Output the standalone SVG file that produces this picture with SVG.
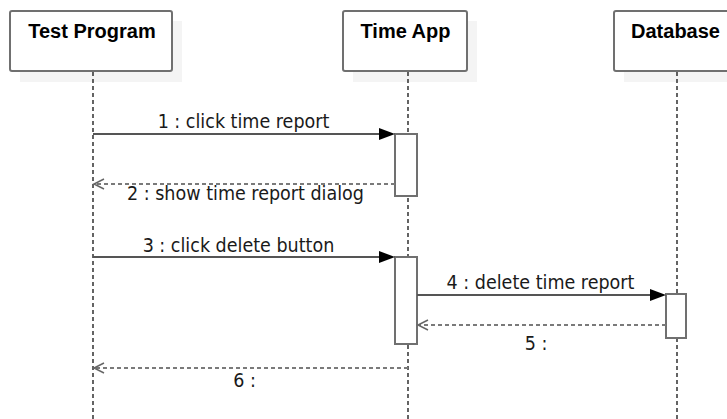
<svg xmlns="http://www.w3.org/2000/svg" width="727" height="419" viewBox="0 0 727 419">
  <style>
    .shadow { fill: #f4f4f4; stroke: none; }
    .head { fill: #ffffff; stroke: #707070; stroke-width: 2; }
    .title { font-family: "Liberation Sans", Arial, sans-serif; font-weight: bold; font-size: 20px; fill: #000; text-anchor: middle; }
    .life { stroke: #111; stroke-width: 1.3; stroke-dasharray: 4 3; fill: none; }
    .act { fill: #ffffff; stroke: #707070; stroke-width: 2; }
    .call { stroke: #555; stroke-width: 2; fill: none; }
    .ret { stroke: #7a7a7a; stroke-width: 2; stroke-dasharray: 4 3; fill: none; }
    .open { stroke: #666; stroke-width: 1.5; fill: none; }
    .label { font-family: "DejaVu Sans Condensed", "DejaVu Sans", sans-serif; font-stretch: condensed; font-size: 19.5px; fill: #1a1a1a; text-anchor: middle; }
  </style>

  <!-- lifeline heads -->
  <g id="test-program">
    <rect class="shadow" x="20" y="21" width="162" height="61"/>
    <rect class="head" x="10" y="11" width="162" height="60" rx="2"/>
    <text class="title" x="92" y="38">Test Program</text>
    <line class="life" x1="93" y1="72" x2="93" y2="419"/>
  </g>

  <g id="time-app">
    <rect class="shadow" x="353" y="21" width="124" height="61"/>
    <rect class="head" x="343" y="11" width="124" height="60" rx="2"/>
    <text class="title" x="405.5" y="38">Time App</text>
    <line class="life" x1="408" y1="72" x2="408" y2="419"/>
    <rect class="act" x="395" y="134" width="22" height="62"/>
    <rect class="act" x="395" y="257" width="22" height="87"/>
  </g>

  <g id="database">
    <rect class="shadow" x="624" y="21" width="124" height="61"/>
    <rect class="head" x="614" y="11" width="124" height="60" rx="2"/>
    <text class="title" x="675.5" y="38">Database</text>
    <line class="life" x1="677" y1="72" x2="677" y2="419"/>
    <rect class="act" x="666" y="294" width="20" height="44"/>
  </g>

  <!-- messages -->
  <g id="connectors">
    <!-- 1 -->
    <line class="call" x1="93" y1="134" x2="381" y2="134"/>
    <polygon points="379,128 395,134 379,140" fill="#000"/>
    <text class="label" x="243.5" y="128">1 : click time report</text>

    <!-- 2 -->
    <line class="ret" x1="395" y1="184" x2="95" y2="184"/>
    <polyline class="open" points="104,179 94,184 104,189"/>
    <text class="label" x="245.5" y="199.5">2 : show time report dialog</text>

    <!-- 3 -->
    <line class="call" x1="93" y1="257" x2="381" y2="257"/>
    <polygon points="379,251 395,257 379,263" fill="#000"/>
    <text class="label" x="238.5" y="251.5">3 : click delete button</text>

    <!-- 4 -->
    <line class="call" x1="417" y1="295" x2="652" y2="295"/>
    <polygon points="650,289 666,295 650,301" fill="#000"/>
    <text class="label" x="540.5" y="289">4 : delete time report</text>

    <!-- 5 -->
    <line class="ret" x1="666" y1="325" x2="419" y2="325"/>
    <polyline class="open" points="428,320 418,325 428,330"/>
    <text class="label" x="536" y="350">5 :</text>

    <!-- 6 -->
    <line class="ret" x1="408" y1="368" x2="95" y2="368"/>
    <polyline class="open" points="104,363 94,368 104,373"/>
    <text class="label" x="244.5" y="386.5">6 :</text>
  </g>
</svg>
